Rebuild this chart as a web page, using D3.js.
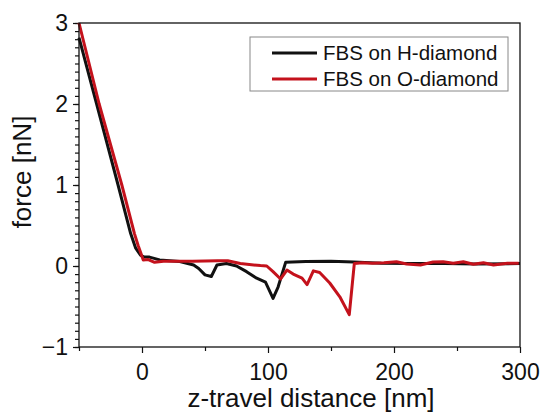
<!DOCTYPE html>
<html>
<head>
<meta charset="utf-8">
<script src="https://cdn.jsdelivr.net/npm/d3@7"></script>
<style>
  body { margin: 0; background: #fff; }
  text { font-family: "Liberation Sans", Arial, sans-serif; fill: #111; }
</style>
</head>
<body>
<svg id="chart" width="545" height="414"></svg>
<script>
// 数据: z-travel distance [nm] vs force [nN]
const hDist  = [-50, -36, -19, -9, -5, -1, 2, 6, 14, 30, 41, 45, 50, 55, 59.5, 67, 75, 83, 91, 98, 104, 108, 114, 130, 150, 168, 190, 215, 240, 265, 300]
const hForce = [2.82, 2.0, 1.0, 0.4, 0.22, 0.13, 0.11, 0.11, 0.075, 0.055, 0.012, -0.03, -0.11, -0.13, 0.012, 0.03, 0.0, -0.07, -0.15, -0.2, -0.4, -0.26, 0.045, 0.055, 0.06, 0.05, 0.035, 0.03, 0.03, 0.025, 0.03]

const oDist  = [-50, -34, -16, -6, -3, 1, 5, 10, 17, 40, 60, 68, 78, 94, 99, 104, 110, 115, 120, 127, 131, 136, 141, 149, 157, 164.5, 168.5, 175, 183, 192, 202, 210, 221, 231, 239, 247, 255, 263, 271, 279, 290, 299]
const oForce = [3.0, 2.0, 1.0, 0.4, 0.25, 0.075, 0.08, 0.045, 0.06, 0.06, 0.065, 0.065, 0.03, 0.005, 0.0, -0.07, -0.16, -0.05, -0.1, -0.15, -0.23, -0.06, -0.08, -0.21, -0.38, -0.6, 0.03, 0.04, 0.035, 0.041, 0.053, 0.025, 0.012, 0.049, 0.053, 0.033, 0.053, 0.021, 0.041, 0.012, 0.033, 0.033]

const xMajor = [0, 100, 200, 300]
const xMinor = [-50, 50, 150, 250]
const yMajor = [-1, 0, 1, 2, 3]
const seriesNames = ['FBS on H-diamond', 'FBS on O-diamond']
const seriesColors = ['#111111', '#c4121c']

const svg = d3.select('#chart')
const plotLeft = 79, plotRight = 520, plotTop = 23, plotBottom = 347

const x = d3.scaleLinear().domain([-50, 300]).range([plotLeft, plotRight])
const y = d3.scaleLinear().domain([-1, 3]).range([plotBottom, plotTop])

// 坐标轴
const xAxis = d3.axisBottom(x).tickValues(xMajor).tickSize(6).tickPadding(5).tickFormat(d3.format('d'))
const xAxisMinor = d3.axisBottom(x).tickValues(xMinor).tickSize(4).tickFormat('')
const yAxis = d3.axisLeft(y).tickValues(yMajor).tickSize(6).tickPadding(5).tickFormat(d3.format('d'))
const yAxisMinor = d3.axisLeft(y).tickValues(d3.range(-10, 31).map(d => d / 10)).tickSize(4).tickFormat('')

svg.append('g').attr('transform', `translate(0,${plotBottom})`).call(xAxisMinor)
const gx = svg.append('g').attr('transform', `translate(0,${plotBottom})`).call(xAxis)
svg.append('g').attr('transform', `translate(${plotLeft},0)`).call(yAxisMinor)
const gy = svg.append('g').attr('transform', `translate(${plotLeft},0)`).call(yAxis)

gx.selectAll('text').style('font-size', '23px').attr('dy', '0.95em')
gy.selectAll('text').style('font-size', '23px').attr('dy', '0.34em')
svg.selectAll('.domain').remove()
svg.selectAll('.tick line').attr('stroke', '#111').attr('stroke-width', 1.2)

// 数据线
const line = d3.line().x(d => x(d[0])).y(d => y(d[1]))
const series = [d3.zip(hDist, hForce), d3.zip(oDist, oForce)]

svg.append('g').selectAll('path').data(series).join('path')
  .attr('d', d => line(d))
  .attr('fill', 'none')
  .attr('stroke', (_, i) => seriesColors[i])
  .attr('stroke-width', 3)
  .attr('stroke-linejoin', 'round')

// 边框
svg.append('rect')
  .attr('x', plotLeft).attr('y', plotTop)
  .attr('width', plotRight - plotLeft).attr('height', plotBottom - plotTop)
  .attr('fill', 'none').attr('stroke', '#111').attr('stroke-width', 1.3)

// 轴标题
svg.append('text')
  .attr('x', 311).attr('y', 407)
  .attr('text-anchor', 'middle')
  .style('font-size', '26px')
  .text('z-travel distance [nm]')

svg.append('text')
  .attr('transform', 'translate(31,172) rotate(-90)')
  .attr('text-anchor', 'middle')
  .style('font-size', '26px')
  .text('force [nN]')

// legend
const legendG = svg.append('g').attr('class', 'legend')
legendG.append('rect')
  .attr('x', 250).attr('y', 37).attr('width', 258).attr('height', 54)
  .attr('fill', '#fff').attr('stroke', '#888').attr('stroke-width', 1)

legendG.selectAll('line').data(seriesNames).join('line')
  .attr('x1', 272).attr('x2', 317)
  .attr('y1', (_, i) => 53 + 26 * i).attr('y2', (_, i) => 53 + 26 * i)
  .attr('stroke', (_, i) => seriesColors[i])
  .attr('stroke-width', 3)

legendG.selectAll('text').data(seriesNames).join('text')
  .attr('x', 323)
  .attr('y', (_, i) => 53 + 26 * i)
  .attr('dy', '0.35em')
  .style('font-size', '20.5px')
  .text(d => d)
</script>
</body>
</html>
